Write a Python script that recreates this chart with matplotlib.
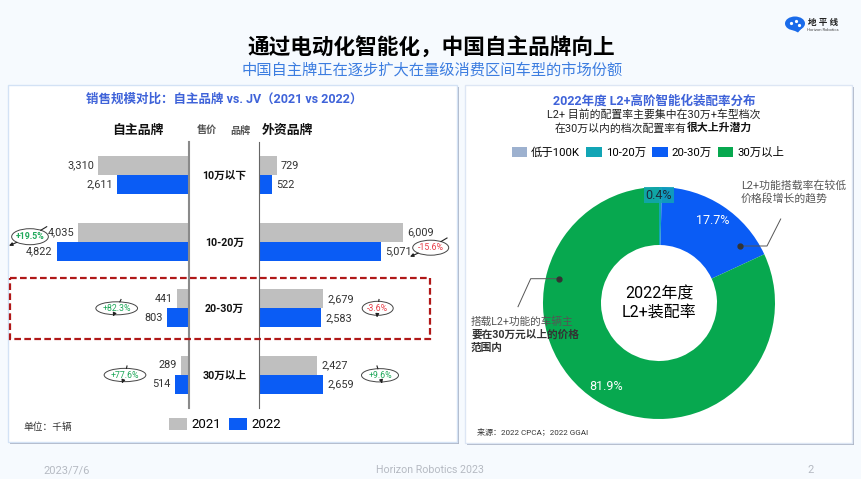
import matplotlib
matplotlib.use("Agg")
import matplotlib.pyplot as plt
from matplotlib.patches import Rectangle, Ellipse, Polygon
import numpy as np

plt.rcParams['font.family'] = ['Roboto', 'Noto Sans CJK SC', 'DejaVu Sans']

# sales, thousand vehicles
price_bands = ['10万以下', '10-20万', '20-30万', '30万以上']
own_2021 = [3310, 4035, 441, 289]
own_2022 = [2611, 4822, 803, 514]
jv_2021 = [729, 6009, 2679, 2427]
jv_2022 = [522, 5071, 2583, 2659]
year_labels = ['2021', '2022']

# L2+ share by price band, percent
share_labels = ['低于100K', '10-20万', '20-30万', '30万以上']
share_values = [0.0, 0.4, 17.7, 81.9]

W, H = 861, 479
GREY = '#BFBFBF'
BLUE = '#0A5CF5'
TITLE_BLUE = '#3F63D9'
SHARE_COLORS = ['#9DB1CF', '#12A5B5', '#0A5CF5', '#07A84F']

fig = plt.figure(figsize=(W / 100, H / 100), dpi=100, facecolor='#F6FAFE')


def px_axes(left, top, right, bottom, z):
    return fig.add_axes([left / W, 1 - bottom / H, (right - left) / W, (bottom - top) / H], zorder=z)


# background layer in pixel coordinates
bg = px_axes(0, 0, W, H, 0)
bg.set_xlim(0, W)
bg.set_ylim(H, 0)
bg.axis('off')

for x0, y0, x1, y1, edge in [(7.5, 85, 457, 441.5, '#D3E2F5'), (465, 85, 851.5, 442.5, '#DDE6F4')]:
    bg.add_patch(Rectangle((x0 + 2, y0 + 2), x1 - x0, y1 - y0, fc='#AEB6C6', ec='none'))
    bg.add_patch(Rectangle((x0, y0), x1 - x0, y1 - y0, fc='white', ec=edge, lw=1))

# titles
bg.text(431, 47.5, '通过电动化智能化，中国自主品牌向上', fontsize=15.6, fontweight='bold', color='black', ha='center', va='center')
bg.text(432, 70, '中国自主牌正在逐步扩大在量级消费区间车型的市场份额', fontsize=11, color='#3C7DE0', ha='center', va='center')
bg.text(224, 99, '销售规模对比：自主品牌 vs. JV（2021 vs 2022）', fontsize=9, fontweight='bold', color=TITLE_BLUE, ha='center', va='center')
bg.text(654, 101, '2022年度 L2+高阶智能化装配率分布', fontsize=9, fontweight='bold', color=TITLE_BLUE, ha='center', va='center')
bg.text(654, 114.5, 'L2+ 目前的配置率主要集中在30万+车型档次', fontsize=7.8, color='#222222', ha='center', va='center')
bg.text(687, 128, '在30万以内的档次配置率有', fontsize=7.8, color='#222222', ha='right', va='center')
bg.text(687, 128, '很大上升潜力', fontsize=7.8, fontweight='bold', color='#111111', ha='left', va='center')

# column heads
bg.text(138, 130, '自主品牌', fontsize=9.3, fontweight='bold', color='#111111', ha='center', va='center')
bg.text(287.5, 130, '外资品牌', fontsize=9.3, fontweight='bold', color='#111111', ha='center', va='center')
bg.text(207, 131, '售价', fontsize=7.3, fontweight='bold', color='#555555', ha='center', va='center')
bg.text(240, 131, '品牌', fontsize=7.3, fontweight='bold', color='#555555', ha='center', va='center')
bg.text(48, 427, '单位：千辆', fontsize=7, color='#333333', ha='center', va='center')
bg.text(477, 432, '来源：2022 CPCA；2022 GGAI', fontsize=5.8, color='#333333', ha='left', va='center')

# footer
bg.text(43, 470, '2023/7/6', fontsize=7.9, color='#B5BAC2', ha='left', va='center')
bg.text(430, 470, 'Horizon Robotics 2023', fontsize=7.7, color='#B5BAC2', ha='center', va='center')
bg.text(811, 470, '2', fontsize=7.9, color='#B5BAC2', ha='center', va='center')

# logo
bg.add_patch(Ellipse((795, 23.5), 20, 14, fc='#1A6BEA', ec='none'))
bg.add_patch(Polygon([(789, 28), (802, 28), (798, 32.5)], fc='#1A6BEA', ec='none'))
for dx, dy in [(791, 23), (796, 21), (799, 25)]:
    bg.plot(dx, dy, 'o', ms=1.3, color='white')
bg.text(823, 22, '地 平 线', fontsize=6.2, fontweight='bold', color='#222222', ha='center', va='center')
bg.text(823, 29.5, 'Horizon Robotics', fontsize=3, color='#444444', ha='center', va='center')

# left bars, 0.02745 px per unit
y = np.arange(len(price_bands))
h = 0.285
ax_l = px_axes(20, 141.7, 189, 408.3, 1)
ax_l.patch.set_alpha(0)
b1 = ax_l.barh(y - h / 2, own_2021, h, color=GREY, label=year_labels[0])
b2 = ax_l.barh(y + h / 2, own_2022, h, color=BLUE, label=year_labels[1])
ax_l.set_xlim(169 / 0.02745, 0)
ax_l.set_ylim(3.5, -0.5)
ax_l.bar_label(b1, fmt='{:,.0f}', padding=3, fontsize=7.8, color='#333333')
ax_l.bar_label(b2, fmt='{:,.0f}', padding=3, fontsize=7.8, color='#333333')
ax_l.set_xticks([])
ax_l.set_yticks([])
for s in ['left', 'top', 'bottom']:
    ax_l.spines[s].set_visible(False)
ax_l.spines['right'].set_color('#8A8A8A')
ax_l.spines['right'].set_linewidth(1.5)

# right bars, 0.02395 px per unit
ax_r = px_axes(259.3, 141.7, 425, 408.3, 1)
ax_r.patch.set_alpha(0)
b3 = ax_r.barh(y - h / 2, jv_2021, h, color=GREY)
b4 = ax_r.barh(y + h / 2, jv_2022, h, color=BLUE)
ax_r.set_xlim(0, 165.7 / 0.02395)
ax_r.set_ylim(3.5, -0.5)
ax_r.bar_label(b3, fmt='{:,.0f}', padding=3, fontsize=7.8, color='#333333')
ax_r.bar_label(b4, fmt='{:,.0f}', padding=3, fontsize=7.8, color='#333333')
ax_r.set_xticks([])
ax_r.set_yticks(y, price_bands, fontsize=7.7, fontweight='bold', color='#111111')
ax_r.tick_params(axis='y', length=0, pad=25)
for lab in ax_r.get_yticklabels():
    lab.set_ha('center')
for s in ['right', 'top', 'bottom']:
    ax_r.spines[s].set_visible(False)
ax_r.spines['left'].set_color('#666666')
ax_r.spines['left'].set_linewidth(0.8)

fig.legend(handles=[b1, b2], labels=year_labels, ncol=2, frameon=False, fontsize=9.5,
           loc='center', bbox_to_anchor=(225 / W, 1 - 424.5 / H), handlelength=1.4, handleheight=1.0,
           handletextpad=0.35, columnspacing=0.55)

# donut
ax_p = px_axes(543, 187, 775, 419, 1)
wedges, _, pct = ax_p.pie(share_values, colors=SHARE_COLORS, startangle=90, counterclock=False, radius=1,
                          wedgeprops=dict(width=0.5, linewidth=0, clip_on=False),
                          autopct=lambda p: f'{p:.1f}%' if p > 0 else '', pctdistance=0.85,
                          textprops=dict(fontsize=9, color='white'))
ax_p.set_xlim(-1, 1)
ax_p.set_ylim(-1, 1)
pct[1].set_position((0, 0.93))
pct[1].set_color('#1C2B3A')
pct[1].set_bbox(dict(fc=SHARE_COLORS[1], ec='none', pad=1.2, alpha=0.85))
ax_p.text(0, 0.08, '2022年度', fontsize=11.5, color='black', ha='center', va='center')
ax_p.text(0, -0.08, 'L2+装配率', fontsize=11.5, color='black', ha='center', va='center')
bg.legend(wedges, share_labels, ncol=4, frameon=False, fontsize=8.2, loc='center', bbox_to_anchor=(648 / W, 1 - 152 / H),
          bbox_transform=fig.transFigure, handlelength=1.35, handleheight=1.0, handletextpad=0.35, columnspacing=0.55)

# overlay for callouts
fg = px_axes(0, 0, W, H, 3)
fg.set_xlim(0, W)
fg.set_ylim(H, 0)
fg.axis('off')
fg.patch.set_alpha(0)

# dashed highlight
fg.add_patch(Rectangle((10, 278), 420, 61, fc='none', ec='#B01818', lw=1.6, ls=(0, (3, 1.5))))


def on_ellipse(cx, cy, w, ht, pt):
    dx, dy = pt[0] - cx, pt[1] - cy
    t = 1 / np.hypot(dx / (w / 2), dy / (ht / 2))
    return cx + dx * t, cy + dy * t


# growth ellipses: centre x, centre y, width, height, text, colour, bold, tail, head
badges = [
    (30, 236.7, 36.7, 16, '+19.5%', '#1FA85A', 'bold', (46.7, 226.7), (9, 245.7)),
    (430.7, 247.7, 36, 15, '-15.6%', '#E8404A', 'normal', (447, 238), (410, 256.7)),
    (116.7, 308.3, 41.7, 13, '+82.3%', '#1FA85A', 'normal', (121, 299.5), (113, 316.5)),
    (125, 375, 41.7, 13.3, '+77.6%', '#1FA85A', 'normal', (127, 366), (122, 383.5)),
    (377.7, 308.3, 31, 14, '-3.6%', '#E8404A', 'normal', (379, 299.5), (377, 317.5)),
    (380, 375.3, 37, 13.3, '+9.6%', '#1FA85A', 'normal', (377, 366), (382, 383.5)),
]
for cx, cy, w, ht, txt, col, weight, tail, head in badges:
    fg.add_patch(Ellipse((cx, cy), w, ht, fc='white', ec='#444444', lw=0.7))
    fg.text(cx, cy, txt, fontsize=6.3, fontweight=weight, color=col, ha='center', va='center')
    ex, ey = on_ellipse(cx, cy, w, ht, tail)
    fg.plot([ex, tail[0]], [ey, tail[1]], color='#222222', lw=0.8)
    fg.annotate('', xy=head, xytext=on_ellipse(cx, cy, w, ht, head),
                arrowprops=dict(arrowstyle='-|>', color='#222222', lw=0.8, mutation_scale=5, shrinkA=0, shrinkB=0))

# donut callouts
fg.plot([740, 767, 780.7], [246, 246, 219], color='#555555', lw=0.7)
fg.plot(740, 246, 'o', ms=3.5, color='#333333')
fg.text(741, 185.5, 'L2+功能搭载率在较低', fontsize=7.8, color='#555555', ha='left', va='center')
fg.text(741, 198.5, '价格段增长的趋势', fontsize=7.8, color='#555555', ha='left', va='center')
fg.plot([559, 530.7, 518], [278.7, 278.7, 306.7], color='#555555', lw=0.7)
fg.plot(559, 278.7, 'o', ms=3.5, color='#333333')
fg.text(471, 322, '搭载L2+功能的车辆主', fontsize=7.7, color='#555555', ha='left', va='center')
fg.text(471, 335, '要在30万元以上的价格', fontsize=7.7, fontweight='bold', color='#333333', ha='left', va='center')
fg.text(471, 348, '范围内', fontsize=7.7, fontweight='bold', color='#333333', ha='left', va='center')

fig.savefig('out.png', dpi=100, facecolor=fig.get_facecolor())
